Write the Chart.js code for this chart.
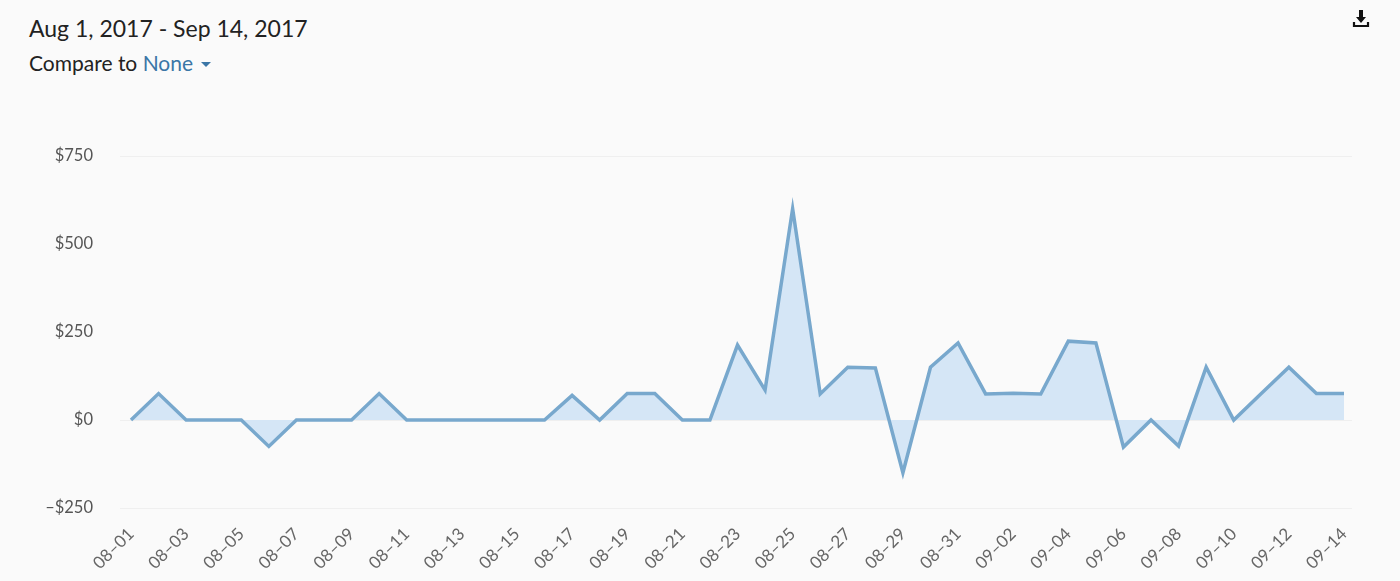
<!DOCTYPE html>
<html>
<head>
<meta charset="utf-8">
<script src="https://cdn.jsdelivr.net/npm/chart.js@4/dist/chart.umd.min.js"></script>
<style>
    body { margin: 0; background: #fafafa; font-family: Lato, "Open Sans", sans-serif; }
    #wrap { position: relative; width: 1400px; height: 581px; }
    #titulo { position: absolute; left: 29px; top: 14px; font-size: 23px; color: #222; }
    #compara { position: absolute; left: 29px; top: 50px; font-size: 21px; color: #222; }
    #compara span { color: #3b76a6; }
    #seta { display: inline-block; width: 0; height: 0; margin-left: 8px; vertical-align: 4px;
        border-left: 5px solid transparent; border-right: 5px solid transparent; border-top: 5px solid #3b76a6; }
    #baixar { position: absolute; left: 1352px; top: 8px; }
    #grafico { position: absolute; left: 0; top: 0; }
</style>
</head>
<body>
<div id="wrap">
    <div id="titulo">Aug 1, 2017 - Sep 14, 2017</div>
    <div id="compara">Compare to <span>None</span><i id="seta"></i></div>
    <svg id="baixar" width="18" height="20" viewBox="0 0 18 20">
        <path d="M7 2h4v7h3l-5 6-5-6h3z" fill="#111"/>
        <path d="M2 14v4h14v-4" stroke="#111" stroke-width="2.2" fill="none"/>
    </svg>
    <canvas id="grafico" width="1400" height="581"></canvas>
</div>
<script>
// dias do período
const dias = ['08–01','08–02','08–03','08–04','08–05','08–06','08–07','08–08','08–09','08–10',
    '08–11','08–12','08–13','08–14','08–15','08–16','08–17','08–18','08–19','08–20',
    '08–21','08–22','08–23','08–24','08–25','08–26','08–27','08–28','08–29','08–30','08–31',
    '09–01','09–02','09–03','09–04','09–05','09–06','09–07','09–08','09–09','09–10',
    '09–11','09–12','09–13','09–14'];

// valores em dólar
const valores = [0, 75, 0, 0, 0, -75, 0, 0, 0, 75,
    0, 0, 0, 0, 0, 0, 70, 0, 75, 75,
    0, 0, 213, 85, 600, 74, 150, 148, -150, 150, 219,
    74, 76, 74, 224, 219, -77, 0, -74, 150, 0,
    75, 150, 75, 75];

const marcasY = [-250, 0, 250, 500, 750];
const linhasY = [-250, 0, 750];

// linhas de grade um pouco mais largas que a área do gráfico
const grade = {
    id: 'grade',
    beforeDatasetsDraw(chart) {
        const c = chart.ctx, a = chart.chartArea, y = chart.scales.y;
        c.save();
        c.strokeStyle = '#efefef';
        c.lineWidth = 1;
        linhasY.forEach(v => {
            const p = Math.round(y.getPixelForValue(v)) + 0.5;
            c.beginPath();
            c.moveTo(a.left - 11, p);
            c.lineTo(a.right + 8, p);
            c.stroke();
        });
        c.restore();
    }
};

const ctx = document.getElementById('grafico');

new Chart(ctx, {
    type: 'line',
    data: {
        labels: dias,
        datasets: [{
            data: valores,
            borderColor: '#78a8cd',
            backgroundColor: '#d5e6f6',
            borderWidth: 3.5,
            pointRadius: 0,
            tension: 0,
            fill: 'origin'
        }]
    },
    plugins: [grade],
    options: {
        responsive: false,
        animation: false,
        layout: { padding: { top: 156, right: 56, left: 0, bottom: 0 } },
        plugins: { legend: { display: false }, tooltip: { enabled: false } },
        scales: {
            x: {
                grid: { display: false },
                border: { display: false },
                ticks: {
                    autoSkip: false,
                    minRotation: 45,
                    maxRotation: 45,
                    color: '#666',
                    font: { family: 'Lato', size: 17 },
                    padding: 8,
                    callback: function (v, i) { return i % 2 == 0 ? dias[i] : ''; }
                },
                afterFit: function (s) { s.height = 73; }
            },
            y: {
                min: -250,
                max: 750,
                afterBuildTicks: function (s) { s.ticks = marcasY.map(v => ({ value: v })); },
                grid: { display: false },
                border: { display: false },
                ticks: {
                    color: '#555',
                    font: { family: 'Lato', size: 16.5 },
                    padding: 30,
                    callback: function (v) { return v < 0 ? '–$' + Math.abs(v) : '$' + v; }
                },
                afterFit: function (s) { s.width = 131; }
            }
        }
    }
});
</script>
</body>
</html>
